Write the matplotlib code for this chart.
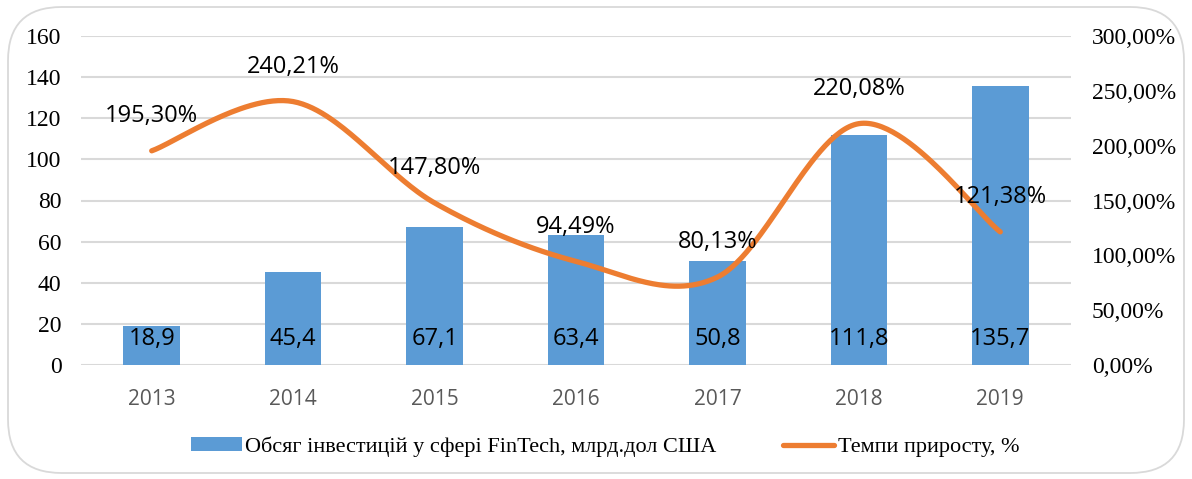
import numpy as np
import matplotlib
matplotlib.use("Agg")
import matplotlib.pyplot as plt
from matplotlib.patches import FancyBboxPatch, Patch
from matplotlib.lines import Line2D

years = ["2013", "2014", "2015", "2016", "2017", "2018", "2019"]
investment = [18.9, 45.4, 67.1, 63.4, 50.8, 111.8, 135.7]
growth = [195.30, 240.21, 147.80, 94.49, 80.13, 220.08, 121.38]
bar_labels = ["18,9", "45,4", "67,1", "63,4", "50,8", "111,8", "135,7"]
growth_labels = ["195,30%", "240,21%", "147,80%", "94,49%", "80,13%", "220,08%", "121,38%"]
left_ticks = [0, 20, 40, 60, 80, 100, 120, 140, 160]
right_ticks = [0, 50, 100, 150, 200, 250, 300]
right_tick_labels = ["0,00%", "50,00%", "100,00%", "150,00%", "200,00%", "250,00%", "300,00%"]
legend_bar = "Обсяг інвестицій у сфері FinTech, млрд.дол США"
legend_line = "Темпи приросту, %"

BLUE = "#5B9BD5"
ORANGE = "#ED7D31"
GRID = "#D9D9D9"

fig = plt.figure(figsize=(11.92, 4.79), dpi=100)
fig.patches.append(FancyBboxPatch((8/1192, 6/479), 1176/1192, 466/479,
                                  boxstyle="round,pad=0,rounding_size=0.045",
                                  transform=fig.transFigure, fill=False,
                                  edgecolor=GRID, linewidth=1.3, mutation_aspect=1192/479))

ax = fig.add_axes([81/1192, 1 - 365/479, 990/1192, 329/479])
x = np.arange(len(years))
ax.bar(x, investment, width=0.4, color=BLUE, zorder=2)
ax.set_xlim(-0.5, len(years) - 0.5)
ax.set_ylim(0, 160)
ax.set_yticks(left_ticks)
ax.set_yticklabels([str(t) for t in left_ticks], family="Liberation Serif", fontsize=17)
ax.set_xticks(x)
ax.set_xticklabels(years, family="Open Sans", fontsize=15, color="#595959")
ax.tick_params(axis="both", length=0)
ax.tick_params(axis="y", pad=14)
ax.tick_params(axis="x", pad=17)
ax.grid(axis="y", color=GRID, linewidth=1.5, zorder=0)
ax.set_axisbelow(True)
for s in ax.spines.values():
    s.set_visible(False)

for xi, lab in zip(x, bar_labels):
    ax.annotate(lab, (xi, 0), xytext=(0, 19), textcoords="offset points",
                ha="center", va="center", family="Open Sans", fontsize=17,
                color="black", zorder=5)

ax2 = ax.twinx()
ax2.set_ylim(0, 300)
ax2.set_yticks(right_ticks)
ax2.set_yticklabels(right_tick_labels, family="Liberation Serif", fontsize=17)
ax2.tick_params(axis="y", length=0, pad=15)
for s in ax2.spines.values():
    s.set_visible(False)

# Smooth (Catmull-Rom style Bezier) line like Excel smoothing
P = np.array(growth, dtype=float)
X = x.astype(float)
xs_all, ys_all = [], []
n = len(P)
t = np.linspace(0, 1, 60)
for i in range(n - 1):
    p0x, p0 = (X[i - 1], P[i - 1]) if i > 0 else (X[i], P[i])
    p3x, p3 = (X[i + 2], P[i + 2]) if i + 2 < n else (X[i + 1], P[i + 1])
    b0x, b0 = X[i], P[i]
    b3x, b3 = X[i + 1], P[i + 1]
    b1x, b1 = b0x + (b3x - p0x) / 6, b0 + (b3 - p0) / 6
    b2x, b2 = b3x - (p3x - b0x) / 6, b3 - (p3 - b0) / 6
    bx = (1-t)**3*b0x + 3*(1-t)**2*t*b1x + 3*(1-t)*t**2*b2x + t**3*b3x
    by = (1-t)**3*b0 + 3*(1-t)**2*t*b1 + 3*(1-t)*t**2*b2 + t**3*b3
    xs_all.append(bx); ys_all.append(by)
ax2.plot(np.concatenate(xs_all), np.concatenate(ys_all), color=ORANGE,
         linewidth=3.8, solid_capstyle="round", zorder=3)

for xi, yi, lab in zip(x, growth, growth_labels):
    ax2.annotate(lab, (xi, yi), xytext=(0, 25), textcoords="offset points",
                 ha="center", va="center", family="Open Sans", fontsize=17,
                 color="black", zorder=6)

handles = [Patch(facecolor=BLUE, edgecolor="none"),
           Line2D([0], [0], color=ORANGE, linewidth=3.8, solid_capstyle="round")]
fig.legend(handles, [legend_bar, legend_line], loc="center",
           bbox_to_anchor=(605/1192, 1 - 447/479), ncol=2, frameon=False,
           prop={"family": "Liberation Serif", "size": 16},
           handlelength=2.3, handleheight=0.6, handletextpad=0.15, columnspacing=3.0)

fig.savefig("out.png", dpi=100)
